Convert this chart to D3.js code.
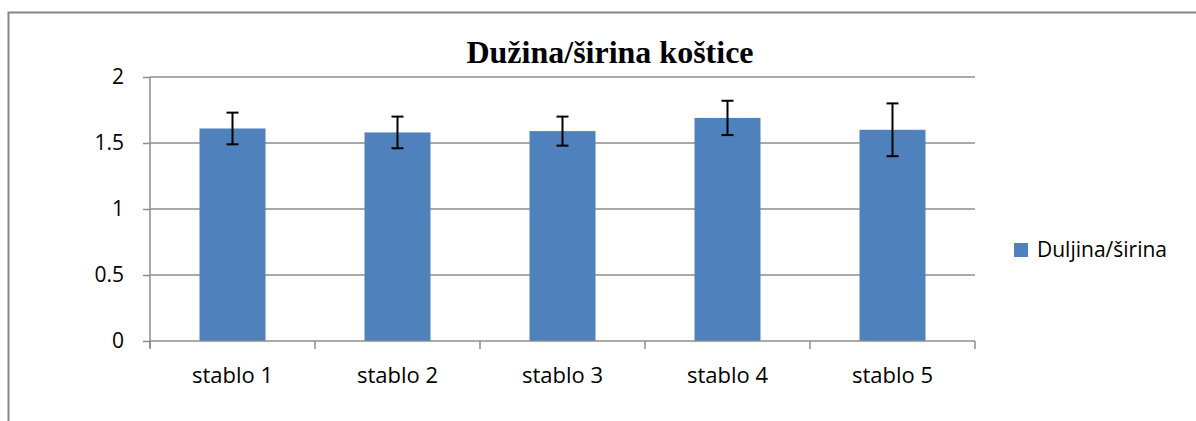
<!DOCTYPE html>
<html>
<head>
<meta charset="utf-8">
<script src="https://cdn.jsdelivr.net/npm/d3@7"></script>
<style>
  body { margin: 0; background: #fff; }
  svg { display: block; }
</style>
</head>
<body>
<svg id="chart" width="1196" height="421"></svg>
<script>
const categories = ["stablo 1", "stablo 2", "stablo 3", "stablo 4", "stablo 5"];
const values = [1.61, 1.58, 1.59, 1.69, 1.60];
const errors = [0.12, 0.12, 0.11, 0.13, 0.20];
const yTicks = [0, 0.5, 1, 1.5, 2];
const seriesName = "Duljina/širina";
const title = "Dužina/širina koštice";

const svg = d3.select("#chart");
const margin = { left: 150, right: 1196 - 975, top: 77, bottom: 421 - 341 };
const width = 1196 - margin.left - margin.right;
const height = 421 - margin.top - margin.bottom;
const barColor = "#4f81bd";
const gridColor = "#8c8c8c";
const labelFont = "'Open Sans', 'Noto Sans', sans-serif";

// outer chart frame (runs off the right and bottom edges)
svg.append("rect")
  .attr("x", 8.5).attr("y", 12.5)
  .attr("width", 1300).attr("height", 500)
  .attr("fill", "none").attr("stroke", "#868686").attr("stroke-width", 2);

svg.append("text")
  .attr("x", 610).attr("y", 63)
  .attr("text-anchor", "middle")
  .attr("font-family", "'Liberation Serif', 'Times New Roman', serif")
  .attr("font-weight", "bold")
  .attr("font-size", 32)
  .attr("fill", "#000")
  .text(title);

const g = svg.append("g").attr("transform", `translate(${margin.left},${margin.top})`);

const x = d3.scaleBand().domain(categories).range([0, width]).paddingInner(0.6).paddingOuter(0.3);
const y = d3.scaleLinear().domain([0, 2]).range([height, 0]);

// gridlines
g.append("g")
  .selectAll("line")
  .data(yTicks.filter(d => d > 0))
  .join("line")
  .attr("x1", 0).attr("x2", width)
  .attr("y1", d => y(d)).attr("y2", d => y(d))
  .attr("stroke", gridColor).attr("stroke-width", 1.5);

// y axis
const yAxis = g.append("g")
  .call(d3.axisLeft(y).tickValues(yTicks).tickFormat(d3.format("")).tickSize(7).tickPadding(19));
yAxis.select(".domain").attr("stroke", gridColor).attr("stroke-width", 1.5).attr("d", `M0,${height + 7}V0`);
yAxis.selectAll(".tick line").attr("stroke", gridColor).attr("stroke-width", 1.5);
yAxis.selectAll("text")
  .attr("font-family", labelFont)
  .attr("font-size", 21).attr("fill", "#000");

// bars
g.selectAll(".bar")
  .data(values)
  .join("rect")
  .attr("class", "bar")
  .attr("x", (d, i) => x(categories[i]))
  .attr("width", x.bandwidth())
  .attr("y", d => y(d))
  .attr("height", d => height - y(d))
  .attr("fill", barColor);

// x axis
const step = width / categories.length;
const xAxis = g.append("g").attr("transform", `translate(0,${height})`);
xAxis.append("line")
  .attr("x1", 0).attr("x2", width)
  .attr("stroke", gridColor).attr("stroke-width", 1.5);
xAxis.selectAll(".xt")
  .data(d3.range(categories.length + 1))
  .join("line")
  .attr("x1", i => i * step).attr("x2", i => i * step)
  .attr("y1", 0).attr("y2", 8)
  .attr("stroke", gridColor).attr("stroke-width", 1.5);
xAxis.selectAll("text")
  .data(categories)
  .join("text")
  .attr("x", d => x(d) + x.bandwidth() / 2)
  .attr("y", 42)
  .attr("text-anchor", "middle")
  .attr("font-family", labelFont)
  .attr("font-size", 22).attr("fill", "#000")
  .text(d => d);

// error bars
const eb = g.append("g").attr("stroke", "#000").attr("stroke-width", 2);
values.forEach((v, i) => {
  const cx = x(categories[i]) + x.bandwidth() / 2;
  const top = y(v + errors[i]), bot = y(v - errors[i]);
  eb.append("line").attr("x1", cx).attr("x2", cx).attr("y1", top).attr("y2", bot);
  eb.append("line").attr("x1", cx - 6).attr("x2", cx + 6).attr("y1", top).attr("y2", top);
  eb.append("line").attr("x1", cx - 6).attr("x2", cx + 6).attr("y1", bot).attr("y2", bot);
});

// legend
const legend = svg.append("g").attr("transform", "translate(1014,243)");
legend.append("rect").attr("width", 14).attr("height", 14).attr("fill", barColor);
legend.append("text")
  .attr("x", 23).attr("y", 14)
  .attr("font-family", labelFont)
  .attr("font-size", 21).attr("fill", "#000")
  .text(seriesName);
</script>
</body>
</html>
